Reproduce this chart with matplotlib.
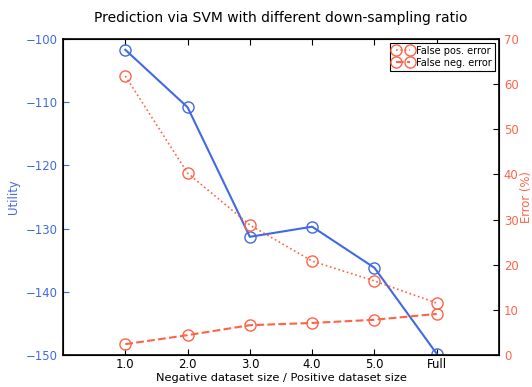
import matplotlib
matplotlib.use("Agg")
import matplotlib.pyplot as plt

labels = ["1.0", "2.0", "3.0", "4.0", "5.0", "Full"]
ratio = [1, 2, 3, 4, 5, 6]
utility = [-101.7, -110.8, -131.3, -129.7, -136.2, -149.8]
false_pos = [61.8, 40.3, 28.8, 20.8, 16.4, 11.5]
false_neg = [2.4, 4.4, 6.6, 7.1, 7.8, 9.1]

blue = "royalblue"
red = "tomato"

plt.rcParams["font.size"] = 8.4
plt.rcParams["xtick.direction"] = "in"
plt.rcParams["ytick.direction"] = "in"

fig = plt.figure(figsize=(5.32, 3.87), dpi=100)
ax = fig.add_axes([63/532, 1 - 355/387, 436/532, 316/387])
ax.plot(ratio, utility, "-o", color=blue, mfc="none", mec=blue, ms=8, lw=1.5)
ax.set_xlim(0, 7)
ax.set_ylim(-150, -100)
ax.set_xticks(ratio)
ax.set_xticklabels(labels)
ax.set_ylabel("Utility", color=blue)
ax.set_xlabel("Negative dataset size / Positive dataset size", fontsize=8.2,
              labelpad=1)
ax.tick_params(axis="y", colors=blue, labelcolor=blue, length=4)
ax.tick_params(axis="x", top=True, length=4, pad=2.5)
for t in ax.get_yticklines():
    t.set_color("black")
for s in ax.spines.values():
    s.set_linewidth(1.2)

ax2 = ax.twinx()
ax2.plot(ratio, false_pos, ":o", color=red, mfc="none", mec=red, ms=8, lw=1.2,
         label="False pos. error")
ax2.plot(ratio, false_neg, "--o", color=red, mfc="none", mec=red, ms=8, lw=1.5,
         label="False neg. error")
ax2.set_ylim(0, 70)
ax2.set_ylabel("Error (%)", color=red, labelpad=1)
ax2.tick_params(axis="y", labelcolor=red, length=4)
ax2.legend(loc="upper right", numpoints=2, fontsize=7, fancybox=False,
           edgecolor="black", framealpha=1, borderaxespad=0.4,
           handlelength=2, handletextpad=0.4, borderpad=0.3, labelspacing=0.2)
ax2.get_legend().get_frame().set_linewidth(0.8)

ax.set_title("Prediction via SVM with different down-sampling ratio",
             fontsize=10, pad=12)

fig.savefig("out.png", dpi=100)
